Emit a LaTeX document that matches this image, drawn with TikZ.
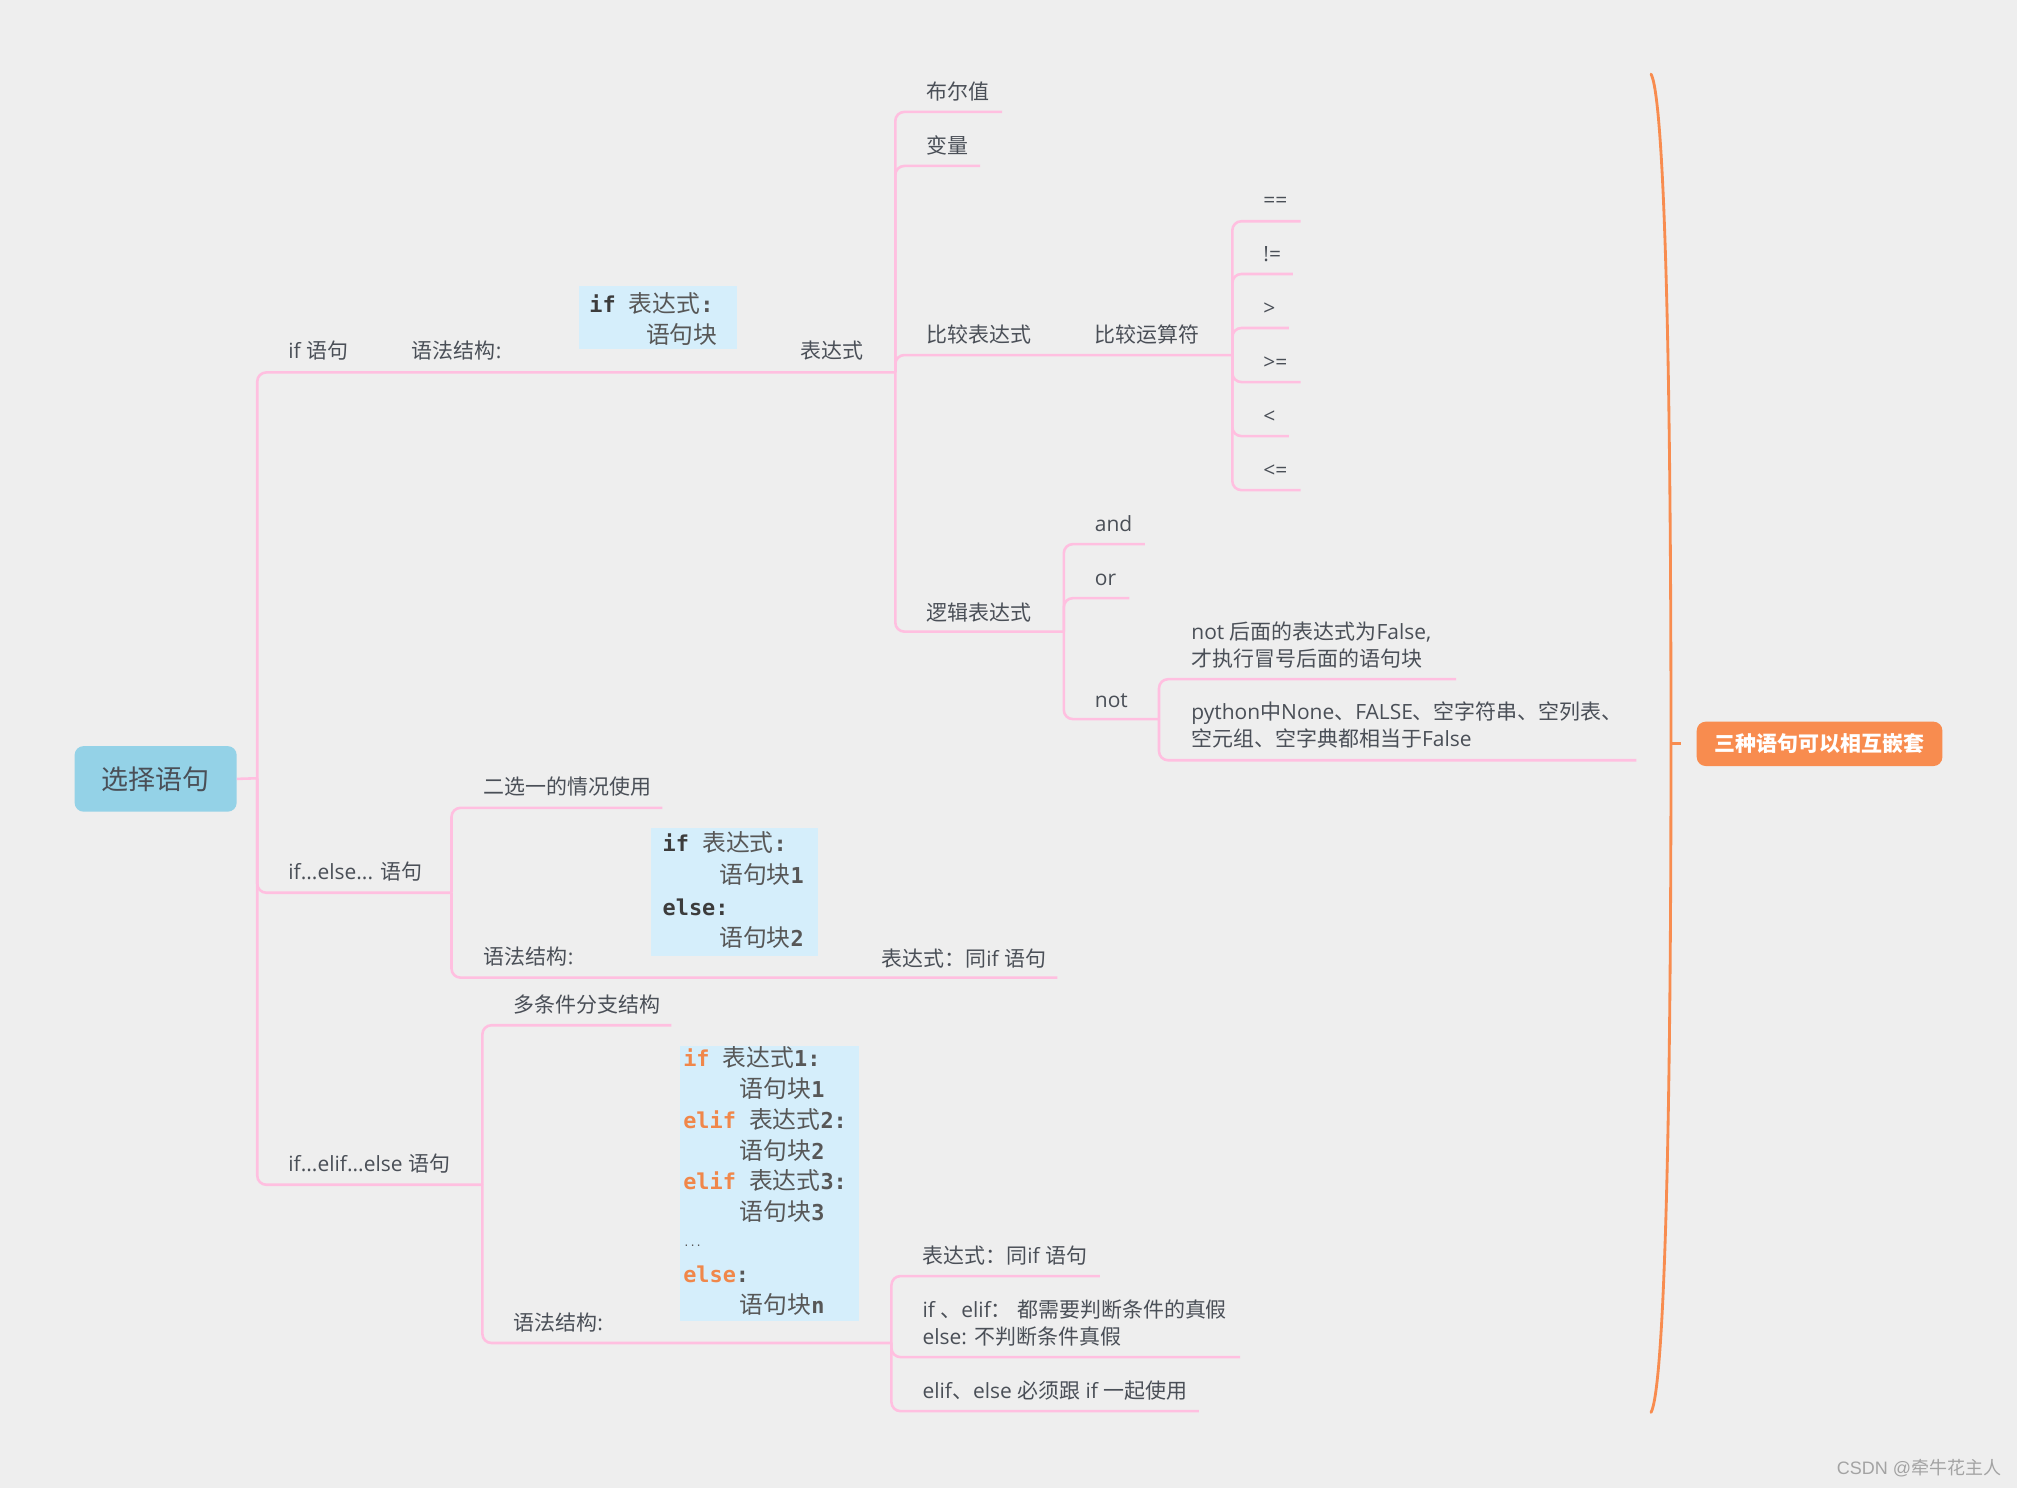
\documentclass[tikz,border=0pt]{standalone}
\usepackage{fontspec}
\setmainfont{Open Sans}
\newfontfamily\latfont{Open Sans}
\newfontfamily\cjkfont{Noto Sans CJK SC}
\newfontfamily\codefont{DejaVu Sans Mono}
\newfontfamily\wmfont{Liberation Sans}
% automatic switching to the CJK font
\XeTeXinterchartokenstate=1
\newXeTeXintercharclass\CJKcls
\newcount\cjkn
\cjkn="3000
\loop
  \XeTeXcharclass\cjkn=\CJKcls
  \ifnum\cjkn<"9FFF \advance\cjkn by 1
\repeat
\cjkn="FF00
\loop
  \XeTeXcharclass\cjkn=\CJKcls
  \ifnum\cjkn<"FFEF \advance\cjkn by 1
\repeat
\XeTeXcharclass`\!=0 \XeTeXcharclass`\,=0 \XeTeXcharclass`\.=0
\XeTeXcharclass`\:=0 \XeTeXcharclass`\;=0 \XeTeXcharclass`\?=0
\XeTeXcharclass`\(=0 \XeTeXcharclass`\)=0 \XeTeXcharclass`\==0
\XeTeXcharclass`\<=0 \XeTeXcharclass`\>=0 \XeTeXcharclass`\@=0
\def\backfont{\latfont}
\def\tocjk{\cjkfont}
\XeTeXinterchartoks 0 \CJKcls = {\tocjk}
\XeTeXinterchartoks 4095 \CJKcls = {\tocjk}
\XeTeXinterchartoks \CJKcls 0 = {\backfont}
\XeTeXinterchartoks \CJKcls 4095 = {\backfont}

\definecolor{bgc}{HTML}{EEEEEE}
\definecolor{pinkc}{HTML}{FFBFE0}
\definecolor{txtc}{HTML}{4A4F57}
\definecolor{rootfill}{HTML}{94D2E7}
\definecolor{orangec}{HTML}{F88C4F}
\definecolor{codebg}{HTML}{D5EEFB}
\definecolor{codec}{HTML}{575757}
\definecolor{kwdark}{HTML}{3C3C3C}
\definecolor{kworange}{HTML}{F0874A}
\definecolor{wmc}{HTML}{A3A3A3}
\newcommand\kwd[1]{\textcolor{kwdark}{#1}}
\newcommand\kwo[1]{\textcolor{kworange}{#1}}

\tikzset{
  conn/.style={draw=pinkc, line width=2pt, rounded corners=7pt},
  brk/.style={draw=orangec, line width=2.2pt, line cap=round},
  lbl/.style={inner sep=0pt, text=txtc, font=\fontsize{16.3}{21}\selectfont, anchor=base west},
  lbl2/.style={inner sep=0pt, text=txtc, font=\fontsize{16.3}{21}\selectfont, anchor=west, align=left},
  codebox/.style={fill=codebg, inner sep=0pt},
  codeline/.style={inner sep=0pt, anchor=base west, text=codec,
    font={\def\backfont{\codefont\bfseries\fontsize{17}{24}\selectfont}%
          \def\tocjk{\cjkfont\mdseries\fontsize{18.5}{24}\selectfont}%
          \codefont\bfseries\fontsize{17}{24}\selectfont}},
}

\begin{document}
\begin{tikzpicture}[x=1pt,y=-1pt]
\useasboundingbox (0,0) rectangle (1568,1157);
\fill[bgc] (0,0) rectangle (1568,1157);

% junction and end coordinates
\coordinate (jRoot) at (200,605);
\coordinate (jExpr) at (696,289.5);
\coordinate (jCmp) at (958,276);
\coordinate (jLog) at (827,491);
\coordinate (jNot) at (901,559);
\coordinate (jElse) at (351,694);
\coordinate (jElif) at (375,921);
\coordinate (jSyn3) at (693,1044);
\coordinate (eBool) at (779,87);
\coordinate (eVar) at (762,129);
\coordinate (eEq) at (1011,172);
\coordinate (eNe) at (1005,213);
\coordinate (eGt) at (1002,255);
\coordinate (eGe) at (1011,297);
\coordinate (eLt) at (1002,339);
\coordinate (eLe) at (1011,381);
\coordinate (eAnd) at (890,423);
\coordinate (eOr) at (878,465);
\coordinate (eN1) at (1132,528);
\coordinate (eN2) at (1272,591);
\coordinate (eTwo) at (515,628);
\coordinate (eSyn2) at (822,760);
\coordinate (eMulti) at (522,797);
\coordinate (eE3) at (855,992);
\coordinate (eCond) at (964,1055);
\coordinate (eMust) at (932,1097);

% root
\node[fill=rootfill, rounded corners=7pt, minimum width=126pt, minimum height=51pt, inner sep=0pt,
      text=txtc, font=\fontsize{21}{24}\selectfont] (root) at (121,605.5) {选择语句};

% connectors
\draw[conn] (root.east) -- (jRoot);
\draw[conn] (jRoot) |- (jExpr);
\draw[conn] (jRoot) |- (jElse);
\draw[conn] (jRoot) |- (jElif);
\draw[conn] (jExpr) |- (eBool);
\draw[conn] (jExpr) |- (eVar);
\draw[conn] (jExpr) |- (jCmp);
\draw[conn] (jExpr) |- (jLog);
\draw[conn] (jCmp) |- (eEq);
\draw[conn] (jCmp) |- (eNe);
\draw[conn] (jCmp) |- (eGt);
\draw[conn] (jCmp) |- (eGe);
\draw[conn] (jCmp) |- (eLt);
\draw[conn] (jCmp) |- (eLe);
\draw[conn] (jLog) |- (eAnd);
\draw[conn] (jLog) |- (eOr);
\draw[conn] (jLog) |- (jNot);
\draw[conn] (jNot) |- (eN1);
\draw[conn] (jNot) |- (eN2);
\draw[conn] (jElse) |- (eTwo);
\draw[conn] (jElse) |- (eSyn2);
\draw[conn] (jElif) |- (eMulti);
\draw[conn] (jElif) |- (jSyn3);
\draw[conn] (jSyn3) |- (eE3);
\draw[conn] (jSyn3) |- (eCond);
\draw[conn] (jSyn3) |- (eMust);

% labels: if branch
\node[lbl] (nIf) at (224,279) {if 语句};
\node[lbl] (nSyn1) at (320,279) {语法结构:};
\node[lbl] (nExpr) at (622,279) {表达式};
\node[lbl] (nBool) at (720,77) {布尔值};
\node[lbl] (nVar) at (720,119) {变量};
\node[lbl] (nCmp) at (720,266) {比较表达式};
\node[lbl] (nCmpOp) at (851,266) {比较运算符};
\node[lbl] (nEq) at (982,161) {==};
\node[lbl] (nNe) at (982,203) {!=};
\node[lbl] (nGt) at (982,245) {>};
\node[lbl] (nGe) at (982,287) {>=};
\node[lbl] (nLt) at (982,329) {<};
\node[lbl] (nLe) at (982,371) {<=};
\node[lbl] (nLog) at (720,482) {逻辑表达式};
\node[lbl] (nAnd) at (851,413) {and};
\node[lbl] (nOr) at (851,455) {or};
\node[lbl] (nNot) at (851,550) {not};
\node[lbl2] (nNot1) at (926,501.5) {not 后面的表达式为False,\\才执行冒号后面的语句块};
\node[lbl2] (nNot2) at (926,563.5) {python中None、FALSE、空字符串、空列表、\\空元组、空字典都相当于False};

% code box 1
\node[codebox, minimum width=123pt, minimum height=49pt] (cb1) at (511.5,246.5) {};
\node[codeline] (c1a) at (458,243) {\kwd{if} 表达式:};
\node[codeline] (c1b) at (502,267) {语句块};

% if...else branch
\node[lbl] (nIfElse) at (224,684) {if...else... 语句};
\node[lbl] (nTwo) at (376,618) {二选一的情况使用};
\node[lbl] (nSyn2) at (376,750) {语法结构:};
\node[lbl] (nExpr2) at (685,751) {表达式：同if 语句};
\node[codebox, minimum width=130pt, minimum height=99pt] (cb2) at (571,693.5) {};
\node[codeline] (c2a) at (515,662) {\kwd{if} 表达式:};
\node[codeline] (c2b) at (559,687) {语句块1};
\node[codeline] (c2c) at (515,712) {\kwd{else:}};
\node[codeline] (c2d) at (559,736) {语句块2};

% if...elif...else branch
\node[lbl] (nIfElif) at (224,911) {if...elif...else 语句};
\node[lbl] (nMulti) at (399,787) {多条件分支结构};
\node[lbl] (nSyn3) at (399,1034) {语法结构:};
\node[codebox, minimum width=139pt, minimum height=214pt] (cb3) at (598.5,920) {};
\node[codeline] (c3a) at (531,829) {\kwo{if} 表达式1:};
\node[codeline] (c3b) at (575,853) {语句块1};
\node[codeline] (c3c) at (531,877) {\kwo{elif} 表达式2:};
\node[codeline] (c3d) at (575,901) {语句块2};
\node[codeline] (c3e) at (531,925) {\kwo{elif} 表达式3:};
\node[codeline] (c3f) at (575,949) {语句块3};
\node[codeline, font={\codefont\fontsize{8}{10}\selectfont}] (c3g) at (531,969) {...};
\node[codeline] (c3h) at (531,997) {\kwo{else}:};
\node[codeline] (c3i) at (575,1021) {语句块n};
\node[lbl] (nExpr3) at (717,982) {表达式：同if 语句};
\node[lbl2] (nCond) at (717,1028.5) {if 、elif： 都需要判断条件的真假\\else: 不判断条件真假};
\node[lbl] (nMust) at (717,1087) {elif、else 必须跟 if 一起使用};

% right bracket and summary
\coordinate (bTop) at (1283.5,57.6);
\coordinate (bMid) at (1299,578);
\coordinate (bBot) at (1283.5,1098);
\coordinate (tickEnd) at (1307,578);
\draw[brk] (bTop) .. controls (1293,75) and (1299,250) .. (bMid)
           .. controls (1299,906) and (1293,1080) .. (bBot);
\draw[brk, line cap=butt] (bMid) -- (tickEnd);
\node[fill=orangec, rounded corners=7pt, minimum width=191pt, minimum height=34.5pt, inner sep=0pt,
      text=white, font=\bfseries\fontsize{16.3}{20}\selectfont] (summary) at (1414.5,578.25) {三种语句可以相互嵌套};

% watermark
\node[inner sep=0pt, anchor=base east, text=wmc, font=\wmfont\fontsize{14}{16}\selectfont] (wm) at (1556,1146) {CSDN @牵牛花主人};
\end{tikzpicture}
\end{document}
